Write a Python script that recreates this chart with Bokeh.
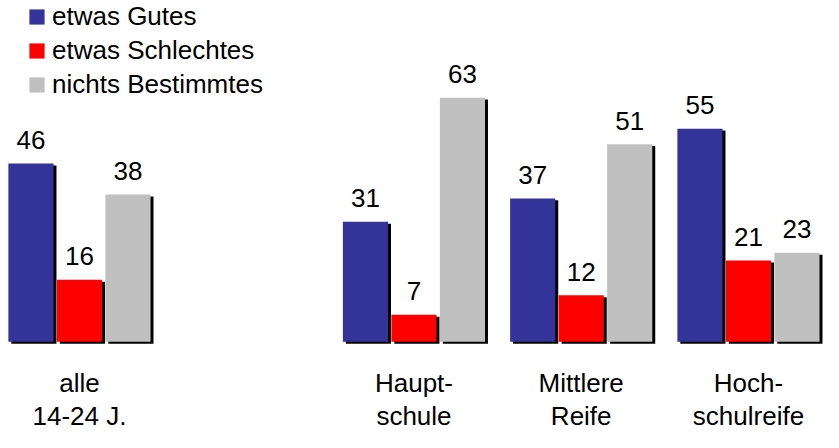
from bokeh.plotting import figure
from bokeh.models import ColumnDataSource, Legend, LegendItem
from bokeh.core.properties import value
from bokeh.embed import file_html
from bokeh.resources import INLINE

# ---- data ----
groups = ["alle\n14-24 J.", "Haupt-\nschule", "Mittlere\nReife", "Hoch-\nschulreife"]
slots = [0, 2, 3, 4]          # slot 1 is an empty gap after "alle"
series = ["etwas Gutes", "etwas Schlechtes", "nichts Bestimmtes"]
gutes = [46, 31, 37, 55]
schlechtes = [16, 7, 12, 21]
nichts = [38, 63, 51, 23]
colors = ["#333399", "#FF0000", "#C0C0C0"]

# ---- layout ----
W, H = 823, 432
FONT = value("Liberation Sans")
FS = "26px"
offset = 0.29      # bar offset inside group (slot units)
bw = 0.27          # bar width (slot units)
dx = 0.0176        # shadow offset, x (slot units)
dy = 0.5           # shadow offset, y (value units)
BASE_FIX = -10     # correction of the text baseline (px)

p = figure(width=W, height=H, output_backend="svg", toolbar_location=None,
           x_range=(-0.4721, 4.4487), y_range=(-23.38, 88.06),
           min_border=0, min_border_left=0, min_border_right=0,
           min_border_top=0, min_border_bottom=0)
p.axis.visible = False
p.grid.visible = False
p.outline_line_color = None
p.background_fill_color = "white"
p.border_fill_color = "white"

renderers = []
for i, vals in enumerate([gutes, schlechtes, nichts]):
    xs = [s + (i - 1) * offset for s in slots]
    src = ColumnDataSource(dict(
        x=xs, top=vals,
        sx=[x + dx for x in xs], stop=[v - dy for v in vals],
        label=[str(v) for v in vals]))
    p.vbar(x="sx", top="stop", bottom=-dy, width=bw, source=src,
           fill_color="black", line_color=None)
    r = p.vbar(x="x", top="top", bottom=0, width=bw, source=src,
               fill_color=colors[i], line_color=None)
    renderers.append(r)
    p.text(x="x", y="top", text="label", source=src, text_font=FONT,
           text_font_size=FS, text_align="center", text_baseline="alphabetic",
           y_offset=-13.5 + BASE_FIX, text_color="black")

line1 = [g.split("\n")[0] for g in groups]
line2 = [g.split("\n")[1] for g in groups]
csrc = ColumnDataSource(dict(x=slots, l1=line1, l2=line2))
p.text(x="x", y=-13.18, text="l1", source=csrc, text_font=FONT, text_font_size=FS,
       text_align="center", text_baseline="alphabetic", text_color="black",
       y_offset=BASE_FIX)
p.text(x="x", y=-21.77, text="l2", source=csrc, text_font=FONT, text_font_size=FS,
       text_align="center", text_baseline="alphabetic", text_color="black",
       y_offset=BASE_FIX)

legend = Legend(items=[LegendItem(label=series[i], renderers=[renderers[i]])
                       for i in range(3)],
                location=(27, 332), orientation="vertical",
                glyph_width=19, glyph_height=19, label_standoff=6,
                spacing=3, padding=0, margin=0,
                label_text_font="Liberation Sans", label_text_font_size=FS,
                label_text_color="black",
                background_fill_alpha=0, border_line_alpha=0)
p.add_layout(legend)

open("out.html", "w").write(file_html(p, INLINE))
